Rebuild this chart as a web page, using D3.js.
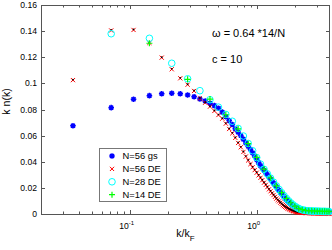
<!DOCTYPE html>
<html>
<head>
<meta charset="utf-8">
<script src="https://cdn.jsdelivr.net/npm/d3@7/dist/d3.min.js"></script>
<style>
  body { margin: 0; background: #fff; }
  text { font-family: "Liberation Sans", Arial, sans-serif; fill: #000; }
</style>
</head>
<body>
<svg width="332" height="250"></svg>
<script>
// Data =====================================================

const yTicks = [0, 0.02, 0.04, 0.06, 0.08, 0.1, 0.12, 0.14, 0.16];
const xMajor = [0.1, 1];
const xMinor = [0.03, 0.04, 0.05, 0.06, 0.07, 0.08, 0.09,
                0.2, 0.3, 0.4, 0.5, 0.6, 0.7, 0.8, 0.9, 2, 3];

// momentum grid spacing in units of kF for each particle number
const step56 = 1 / 28, step28 = 1 / 14, step14 = 1 / 7;

// k n(k), point i sits at k/kF = (i+1)*step
const gs56 = [
  0.0676, 0.0814, 0.0878, 0.0906, 0.0921, 0.0924, 0.0921, 0.0911, 0.0898, 0.0880,
  0.0865, 0.0848, 0.0830, 0.0810, 0.0780, 0.0745, 0.0715, 0.0685, 0.0652, 0.0627,
  0.0601, 0.0573, 0.0544, 0.0519, 0.0496, 0.0468, 0.0444, 0.0418, 0.0393, 0.0370,
  0.0352, 0.0334, 0.0317, 0.0300, 0.0283, 0.0268, 0.0252, 0.0236, 0.0222, 0.0208,
  0.0193, 0.0180, 0.0167, 0.0155, 0.0143, 0.0131, 0.0120, 0.0111, 0.0102, 0.0093,
  0.0085, 0.0076, 0.0069, 0.0063, 0.0057, 0.0052, 0.0047, 0.0042, 0.0038, 0.0035,
  0.0033, 0.0031, 0.0030, 0.0028, 0.0027, 0.0026, 0.0025, 0.0024, 0.0023, 0.0022,
  0.0022, 0.0021, 0.0021, 0.0021, 0.0020, 0.0020, 0.0020, 0.0019, 0.0019, 0.0019,
  0.0019, 0.0018, 0.0018, 0.0018, 0.0018, 0.0018, 0.0017, 0.0017, 0.0017, 0.0017,
  0.0017, 0.0017, 0.0016, 0.0016, 0.0016, 0.0016, 0.0016, 0.0016, 0.0016, 0.0015,
  0.0015, 0.0015, 0.0015, 0.0015, 0.0015
];

const de56 = [
  0.1025, 0.1405, 0.1409, 0.1310, 0.1197, 0.1108, 0.1039, 0.0990, 0.0942, 0.0885,
  0.0852, 0.0822, 0.0789, 0.0758, 0.0730, 0.0692, 0.0651, 0.0618, 0.0583, 0.0544,
  0.0511, 0.0475, 0.0440, 0.0410, 0.0382, 0.0358, 0.0336, 0.0316, 0.0296, 0.0277,
  0.0259, 0.0240, 0.0223, 0.0206, 0.0189, 0.0174, 0.0159, 0.0145, 0.0131, 0.0118,
  0.0107, 0.0097, 0.0087, 0.0077, 0.0068, 0.0061, 0.0055, 0.0049, 0.0043, 0.0038,
  0.0034, 0.0030, 0.0026, 0.0023, 0.0020, 0.0018, 0.0016, 0.0014, 0.0013, 0.0012,
  0.0011, 0.0011, 0.0010, 0.0010, 0.0009, 0.0009, 0.0009, 0.0008, 0.0008, 0.0008,
  0.0008, 0.0007, 0.0007, 0.0007, 0.0007, 0.0007, 0.0006, 0.0006, 0.0006, 0.0006,
  0.0006, 0.0006, 0.0006, 0.0006, 0.0005, 0.0005, 0.0005, 0.0005, 0.0005, 0.0005,
  0.0005, 0.0005, 0.0005, 0.0005, 0.0005, 0.0005, 0.0005, 0.0005, 0.0005, 0.0005,
  0.0004, 0.0004, 0.0004, 0.0004, 0.0004
];

const de28 = [
  0.1380, 0.1345, 0.1154, 0.1035, 0.0944, 0.0875, 0.0818, 0.0762, 0.0710, 0.0655,
  0.0597, 0.0540, 0.0484, 0.0432, 0.0382, 0.0342, 0.0307, 0.0275, 0.0244, 0.0215,
  0.0188, 0.0163, 0.0140, 0.0119, 0.0101, 0.0085, 0.0071, 0.0060, 0.0050, 0.0042,
  0.0036, 0.0032, 0.0029, 0.0027, 0.0025, 0.0024, 0.0023, 0.0023, 0.0022, 0.0022,
  0.0022, 0.0021, 0.0021, 0.0021, 0.0020, 0.0020, 0.0020, 0.0020, 0.0019, 0.0019,
  0.0019, 0.0019
];

const de14 = [
  0.1307, 0.1031, 0.0880, 0.0760, 0.0652, 0.0538, 0.0434, 0.0344, 0.0276, 0.0216,
  0.0163, 0.0120, 0.0086, 0.0060, 0.0043, 0.0033, 0.0027, 0.0025, 0.0024, 0.0023,
  0.0022, 0.0022, 0.0021, 0.0021, 0.0020, 0.0020
];

const legendLabels = ["N=56 gs", "N=56 DE", "N=28 DE", "N=14 DE"];

// Setup =====================================================

var svg = d3.select("svg");
var padL = 41, padR = 330, padT = 5, padB = 214;

var x = d3.scaleLog().domain([0.02, 3.78]).range([padL, padR]);
var y = d3.scaleLinear().domain([0, 0.16]).range([padB, padT]);

function pts(vals, step) {
  return vals.map(function(v, i) { return [(i + 1) * step, v]; });
}

// marker path builders, centred on 0,0
function starPath(s) {
  var d = s * 0.72;
  return "M" + -s + ",0L" + s + ",0M0," + -s + "L0," + s +
         "M" + -d + "," + -d + "L" + d + "," + d + "M" + -d + "," + d + "L" + d + "," + -d;
}
function crossPath(s) {
  return "M" + -s + "," + -s + "L" + s + "," + s + "M" + -s + "," + s + "L" + s + "," + -s;
}
function plusPath(s) {
  return "M" + -s + ",0L" + s + ",0M0," + -s + "L0," + s;
}

// Axes ======================================================

var axisColor = "#555";
var ax = svg.append("g").attr("stroke", axisColor).attr("fill", "none");

ax.append("rect")
  .attr("x", padL + 0.5).attr("y", padT + 0.5)
  .attr("width", padR - padL - 1).attr("height", padB - padT)
  .attr("stroke-width", 1);

yTicks.forEach(function(t) {
  var yy = Math.round(y(t)) + 0.5;
  ax.append("line").attr("x1", padL).attr("x2", padL + 4).attr("y1", yy).attr("y2", yy);
  ax.append("line").attr("x1", padR - 4).attr("x2", padR).attr("y1", yy).attr("y2", yy);
});

xMajor.concat(xMinor).forEach(function(t) {
  var len = xMajor.indexOf(t) >= 0 ? 4 : 2.5;
  var xx = Math.round(x(t)) + 0.5;
  ax.append("line").attr("x1", xx).attr("x2", xx).attr("y1", padB).attr("y2", padB - len);
  ax.append("line").attr("x1", xx).attr("x2", xx).attr("y1", padT).attr("y2", padT + len);
});

svg.append("g").selectAll("text")
  .data(yTicks).enter().append("text")
  .attr("x", padL - 4)
  .attr("y", function(d) { return y(d) + 3; })
  .attr("text-anchor", "end")
  .attr("font-size", 8.6)
  .text(d3.format("~g"));

var xl = svg.append("g").selectAll("text")
  .data([-1, 0]).enter().append("text")
  .attr("x", function(d) { return x(Math.pow(10, d)) - 3; })
  .attr("y", 229)
  .attr("text-anchor", "middle")
  .attr("font-size", 8.6);
xl.append("tspan").text("10");
xl.append("tspan").attr("dy", -4.5).attr("font-size", 6).text(function(d) { return d; });

var xt = svg.append("text")
  .attr("x", (padL + padR) / 2)
  .attr("y", 237)
  .attr("text-anchor", "middle")
  .attr("font-size", 10.5);
xt.append("tspan").text("k/k");
xt.append("tspan").attr("dy", 4).attr("font-size", 8).text("F");

svg.append("text")
  .attr("transform", "translate(10," + ((padT + padB) / 2 - 8) + ") rotate(-90)")
  .attr("text-anchor", "middle")
  .attr("font-size", 10.5)
  .text("k n(k)");

// Series ====================================================

var series = [
  { data: pts(gs56, step56), color: "#0000ff", path: starPath(2.8), width: 1.5 },
  { data: pts(de56, step56), color: "#ff0000", path: crossPath(2.1), width: 1 },
  { data: pts(de28, step28), color: "#00ffff", circle: 3.3, width: 1 },
  { data: pts(de14, step14), color: "#00ff00", path: plusPath(3), width: 1.2 }
];

function drawMarker(g, s) {
  if (s.circle) {
    g.append("circle").attr("r", s.circle)
      .attr("fill", "none").attr("stroke", s.color).attr("stroke-width", s.width);
  } else {
    g.append("path").attr("d", s.path)
      .attr("fill", "none").attr("stroke", s.color).attr("stroke-width", s.width);
  }
}

var plot = svg.append("g");

series.forEach(function(s, idx) {
  var g = plot.append("g");
  s.data.forEach(function(p) {
    var m = g.append("g").attr("transform", "translate(" + x(p[0]) + "," + y(p[1]) + ")");
    drawMarker(m, s);
  });
  // black dots on the N=56 DE points
  if (idx == 1) {
    g.selectAll("circle.dot")
      .data(s.data).enter().append("circle")
      .attr("class", "dot")
      .attr("cx", function(p) { return x(p[0]); })
      .attr("cy", function(p) { return y(p[1]) - 0.5; })
      .attr("r", 0.85)
      .attr("fill", "#000");
  }
});

// Annotations ===============================================

svg.append("text").attr("x", 212).attr("y", 37).attr("font-size", 11)
  .text("\u03c9 = 0.64 *14/N");
svg.append("text").attr("x", 212).attr("y", 63).attr("font-size", 11)
  .text("c = 10");

// Legend ====================================================

var lg = svg.append("g");
lg.append("rect")
  .attr("x", 99.5).attr("y", 148.5).attr("width", 67).attr("height", 53)
  .attr("fill", "#fff").attr("stroke", "#777").attr("stroke-width", 1);

legendLabels.forEach(function(label, i) {
  var yy = 156 + i * 12.9;
  var m = lg.append("g").attr("transform", "translate(112," + yy + ")");
  drawMarker(m, series[i]);
  lg.append("text").attr("x", 122.5).attr("y", yy + 3.3)
    .attr("font-size", 9.4).text(label);
});
</script>
</body>
</html>
